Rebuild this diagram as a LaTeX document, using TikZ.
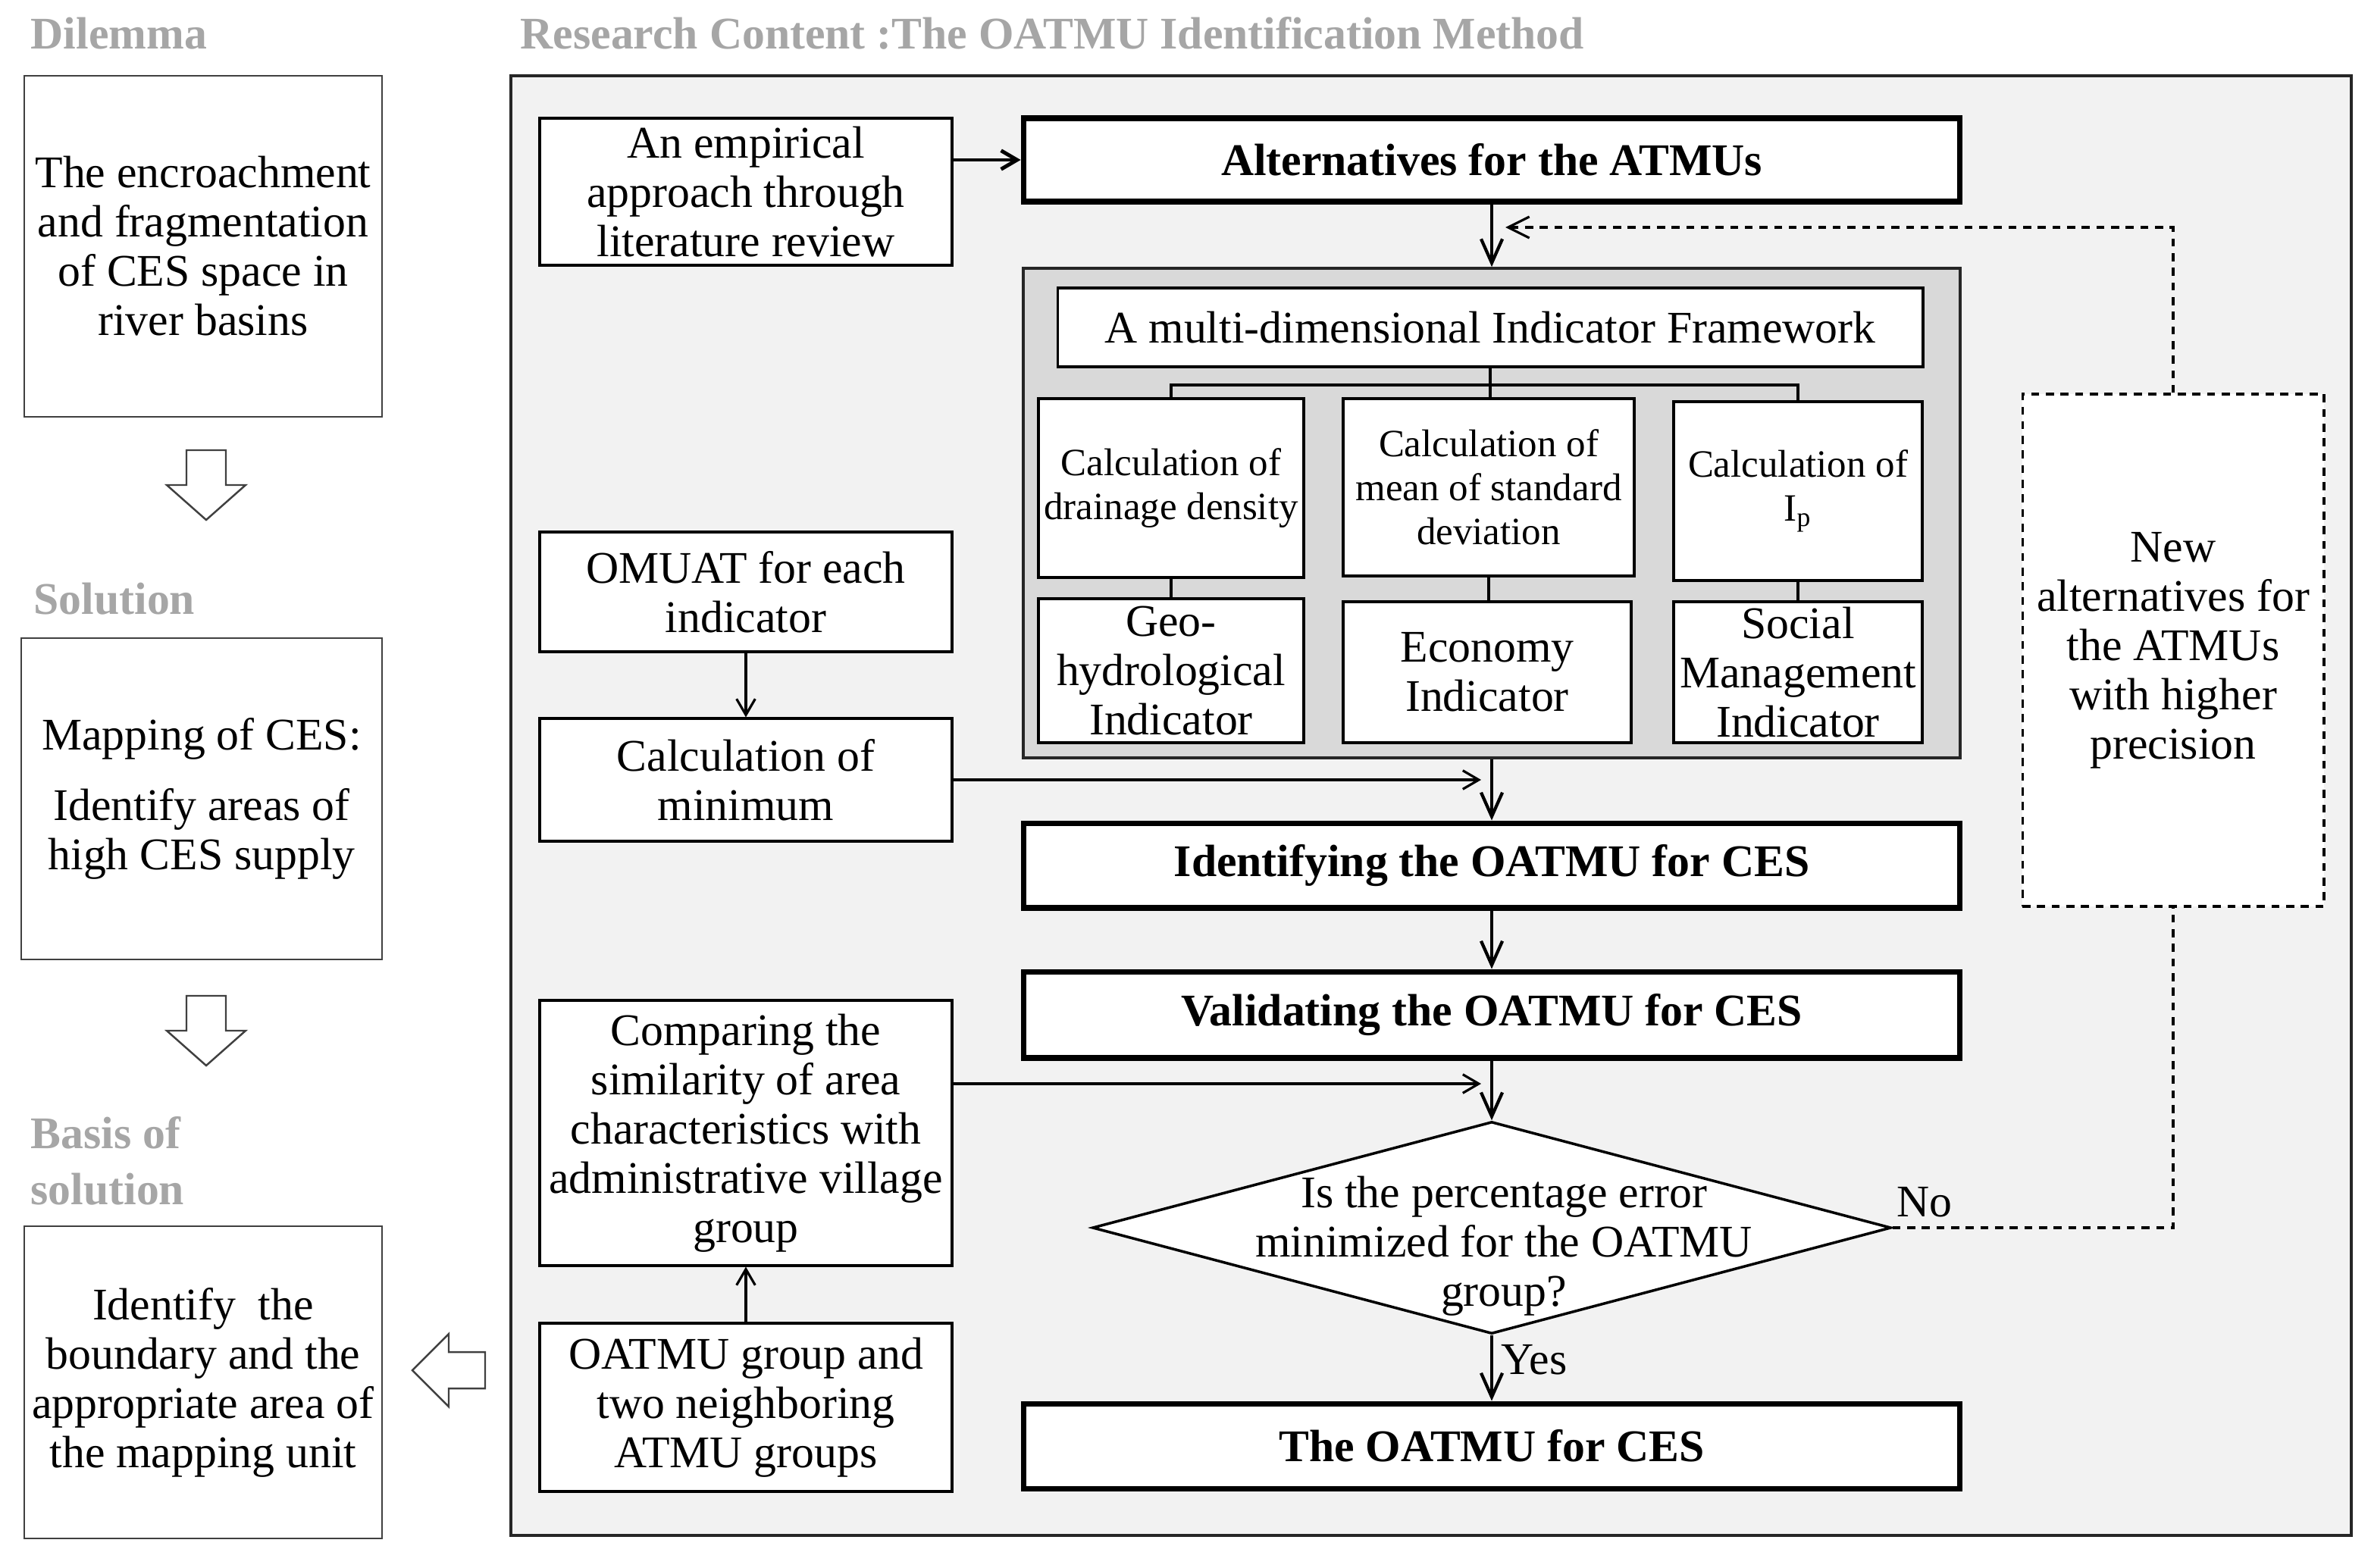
\documentclass[tikz,border=0pt]{standalone}
\usepackage{fontspec}
\setmainfont{Liberation Serif}
\usetikzlibrary{arrows.meta,shapes.geometric}
\definecolor{ttl}{HTML}{A6A6A6}
\definecolor{panelfill}{HTML}{F2F2F2}
\definecolor{framefill}{HTML}{D9D9D9}
\definecolor{lbord}{HTML}{404040}
\begin{document}
\begin{tikzpicture}[x=0.02cm,y=-0.02cm,
  every node/.style={font=\fontsize{17}{18.5}\selectfont},
  title/.style={text=ttl, font=\fontsize{17}{21}\selectfont\bfseries, anchor=west, inner sep=0pt, align=left},
  lbox/.style={draw=lbord, line width=0.7pt, fill=white, align=center, inner sep=1pt},
  tbox/.style={draw=black, line width=0.9pt, fill=white, align=center, inner sep=1pt},
  bbox/.style={draw=black, line width=2pt, fill=white, align=center, inner sep=1pt, font=\fontsize{17}{18.5}\selectfont\bfseries},
  calcbox/.style={tbox, font=\fontsize{14.5}{16.5}\selectfont},
  hollow/.style={draw=lbord, fill=white, line width=0.7pt},
  mainarr/.style={line width=1.2pt, -{Straight Barb[length=9pt,width=8pt]}},
  sidearr/.style={line width=0.9pt, -{Straight Barb[length=6pt,width=7pt]}},
  fbline/.style={line width=0.9pt, dash pattern=on 3pt off 2.5pt},
  tree/.style={line width=1pt},
]
\useasboundingbox (0,0) rectangle (1564,1034);
\fill[white] (0,0) rectangle (1564,1034);

% ---------- left column ----------
\node[title] (tD) at (20,22) {Dilemma};
\node[title] (tS) at (22,395) {Solution};
\node[title] (tB) at (20,766) {Basis of\\solution};

\node[lbox, minimum width=4.72cm, minimum height=4.5cm] (D) at (134,162.5)
  {The encroachment\\and fragmentation\\of CES space in\\river basins};
\node[lbox, minimum width=4.76cm, minimum height=4.24cm] (S) at (133,527)
  {Mapping of CES:\\[8pt]Identify areas of\\high CES supply};
\node[lbox, minimum width=4.72cm, minimum height=4.12cm] (B) at (134,912)
  {Identify\ \ the\\boundary and the\\appropriate area of\\the mapping unit};

\draw[hollow] (123,297) -- (149,297) -- (149,320) -- (162,320) -- (136,343) -- (110,320) -- (123,320) -- cycle;
\draw[hollow] (123,657) -- (149,657) -- (149,680) -- (162,680) -- (136,703) -- (110,680) -- (123,680) -- cycle;
\draw[hollow] (320,892) -- (296,892) -- (296,880) -- (272,904) -- (296,928) -- (296,916) -- (320,916) -- cycle;

% ---------- main panel ----------
\node[title] (tR) at (343,22) {Research Content :The OATMU Identification Method};
\node[draw=black!85, line width=1.2pt, fill=panelfill, minimum width=24.28cm, minimum height=19.26cm, inner sep=0pt] (panel) at (944,531.5) {};

\node[draw=black!85, line width=1.1pt, fill=framefill, minimum width=12.36cm, minimum height=6.46cm, inner sep=0pt] (Frame) at (984,338.5) {};

\node[tbox, minimum width=5.44cm, minimum height=1.94cm] (Emp) at (492,126.5)
  {An empirical\\approach through\\literature review};
\node[bbox, minimum width=12.36cm, minimum height=1.1cm] (Alt) at (984,105.5)
  {Alternatives for the ATMUs};

\node[tbox, minimum width=11.42cm, minimum height=1.04cm] (MDIF) at (983,216)
  {A multi-dimensional Indicator Framework};
\node[calcbox, minimum width=3.5cm, minimum height=2.36cm] (C1) at (772.5,322)
  {Calculation of\\drainage density};
\node[calcbox, minimum width=3.84cm, minimum height=2.34cm] (C2) at (982,321.5)
  {Calculation of\\mean of standard\\deviation};
\node[calcbox, minimum width=3.28cm, minimum height=2.36cm] (C3) at (1186,324)
  {Calculation of\\I\textsubscript{p}};
\node[tbox, minimum width=3.5cm, minimum height=1.9cm] (I1) at (772.5,442.5)
  {Geo-\\hydrological\\Indicator};
\node[tbox, minimum width=3.8cm, minimum height=1.86cm] (I2) at (981,443.5)
  {Economy\\Indicator};
\node[tbox, minimum width=3.28cm, minimum height=1.86cm] (I3) at (1186,443.5)
  {Social\\Management\\Indicator};

\node[tbox, minimum width=5.44cm, minimum height=1.58cm] (OMUAT) at (492,390.5)
  {OMUAT for each\\indicator};
\node[tbox, minimum width=5.44cm, minimum height=1.62cm] (Cmin) at (492,514.5)
  {Calculation of\\minimum};

\node[bbox, minimum width=12.36cm, minimum height=1.12cm] (Ident) at (984,571)
  {Identifying the OATMU for CES};
\node[bbox, minimum width=12.36cm, minimum height=1.14cm] (Valid) at (984,669.5)
  {Validating the OATMU for CES};

\node[tbox, minimum width=5.44cm, minimum height=3.5cm] (Comp) at (492,747.5)
  {Comparing the\\similarity of area\\characteristics with\\administrative village\\group};

\node[diamond, draw=black, line width=1pt, fill=white, minimum width=10.54cm, minimum height=2.8cm, inner sep=0pt] (dec) at (984,810) {};
\node[align=center, inner sep=0pt] (decT) at (992,822)
  {Is the percentage error\\minimized for the OATMU\\group?};

\node[tbox, dashed, dash pattern=on 3pt off 2.5pt, minimum width=3.98cm, minimum height=6.76cm] (NewAlt) at (1433.5,429)
  {New\\alternatives for\\the ATMUs\\with higher\\precision};

\node[bbox, minimum width=12.36cm, minimum height=1.12cm] (Res) at (984,954)
  {The OATMU for CES};
\node[tbox, minimum width=5.44cm, minimum height=2.22cm] (OATgrp) at (492,928.5)
  {OATMU group and\\two neighboring\\ATMU groups};

% ---------- connectors ----------
\coordinate (fbEnd) at (993,150);
\coordinate (j1) at (977,514.5);
\coordinate (j2) at (977,715);
\coordinate (tj) at (984,254);

\draw[sidearr, line width=1.4pt] (Emp.east |- Alt.west) -- (Alt.west);
\draw[mainarr] (Alt.south) -- (Frame.north);
\draw[fbline, -{Straight Barb[length=8pt,width=8pt]}] (NewAlt.north) |- (fbEnd);

\draw[tree] (MDIF.south) -- (MDIF.south |- C2.north);
\draw[tree] (C1.north) |- (tj) -| (C3.north);
\draw[tree] (C1.south) -- (I1.north);
\draw[tree] (C2.south) -- (C2.south |- I2.north);
\draw[tree] (C3.south) -- (I3.north);

\draw[sidearr] (OMUAT.south) -- (Cmin.north);
\draw[sidearr] (Cmin.east) -- (j1);
\draw[mainarr] (Frame.south) -- (Ident.north);
\draw[mainarr] (Ident.south) -- (Valid.north);
\draw[mainarr] (Valid.south) -- (dec.north);
\draw[sidearr] (Comp.east |- j2) -- (j2);
\draw[mainarr] (dec.south) -- node[pos=0.38, anchor=west, inner sep=3pt] (yes) {Yes} (Res.north);
\draw[fbline] (dec.east) -| (NewAlt.south);
\node[anchor=west, inner sep=0pt] (no) at (1251,793) {No};
\draw[sidearr] (OATgrp.north) -- (Comp.south);
\end{tikzpicture}
\end{document}
